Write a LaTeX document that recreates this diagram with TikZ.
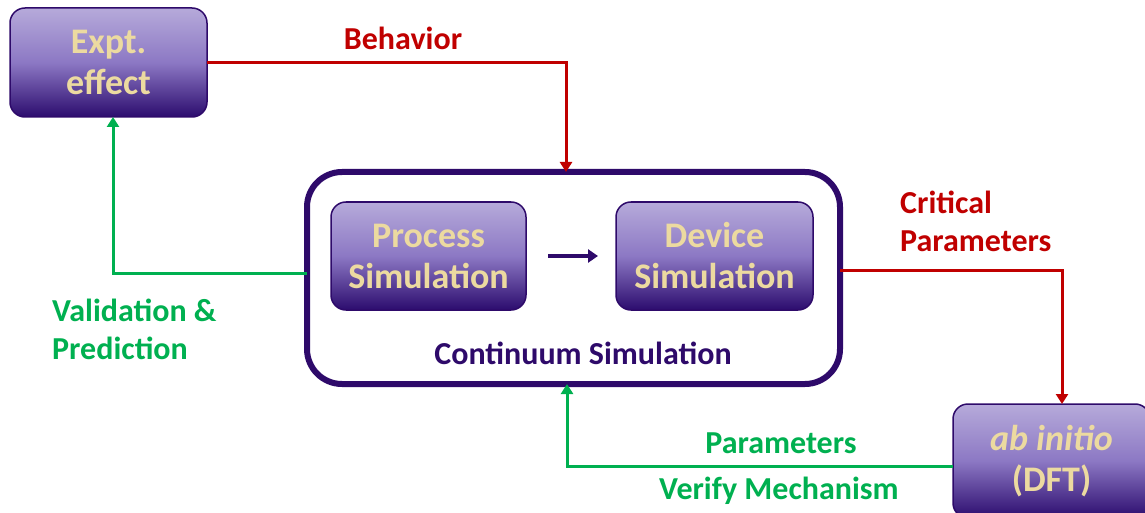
\documentclass[tikz,border=0pt]{standalone}
\usepackage{fontspec}
\setmainfont{Carlito}
\usetikzlibrary{arrows.meta}
\definecolor{dpurple}{RGB}{46,10,106}
\definecolor{ltop}{RGB}{182,170,218}
\definecolor{lmid}{RGB}{140,120,196}
\definecolor{lbot}{RGB}{44,12,110}
\definecolor{beige}{RGB}{236,218,160}
\definecolor{myred}{RGB}{192,0,0}
\definecolor{mygreen}{RGB}{0,176,80}
\tikzset{
  pbox/.style={draw=dpurple, line width=1.5pt, rounded corners=15pt, inner sep=0pt, outer sep=0pt,
    top color=ltop, bottom color=lbot, middle color=lmid, shading angle=0,
    text=beige, font=\fontsize{36}{41}\selectfont\bfseries, align=center},
  bigbox/.style={draw=dpurple, line width=6pt, rounded corners=35pt, fill=white, inner sep=0pt, outer sep=0pt},
  redarrow/.style={draw=myred, line width=3pt, -{Triangle[length=10pt,width=12pt]}},
  greenarrow/.style={draw=mygreen, line width=3pt, -{Triangle[length=10pt,width=12pt]}},
  redlabel/.style={text=myred, font=\fontsize{32}{38}\selectfont\bfseries, inner sep=0pt},
  greenlabel/.style={text=mygreen, font=\fontsize{32}{38}\selectfont\bfseries, inner sep=0pt},
}
\begin{document}
\begin{tikzpicture}[x=1pt,y=-1pt]
\useasboundingbox (0,0) rectangle (1145,513);
\clip (0,0) rectangle (1145,513);
\node[bigbox, minimum width=533pt, minimum height=212pt] (big) at (573.5,278) {};
\node[pbox, minimum width=197pt, minimum height=109pt] (expt) at (108.5,62.5) {Expt.\\effect};
\node[pbox, minimum width=195pt, minimum height=108pt] (proc) at (428.5,256) {Process\\Simulation};
\node[pbox, minimum width=197pt, minimum height=108pt] (dev) at (714.5,256) {Device\\Simulation};
\node[pbox, minimum width=197pt, minimum height=114pt, anchor=north west] (ab) at (953,404) {\itshape ab initio\\(DFT)};
\node[text=dpurple, font=\fontsize{32}{36}\selectfont\bfseries, inner sep=0pt] (cont) at (583,353) {Continuum Simulation};
\draw[draw=dpurple, line width=4pt, -{Triangle[length=10pt,width=13pt]}, shorten <=22pt, shorten >=18pt] (proc) -- (dev);
\draw[redarrow] (expt.east) -| ([xshift=-7.5pt]big.north);
\draw[redarrow] ([yshift=8pt]big.east) -| ([xshift=10.5pt]ab.north);
\draw[greenarrow] ([yshift=5pt]big.west) -| ([xshift=4.5pt]expt.south);
\draw[greenarrow] ([yshift=-5pt]ab.west) -| ([xshift=-6.5pt]big.south);
\node[redlabel] (beh) at (403,38) {Behavior};
\node[redlabel, align=left, anchor=west] (crit) at (900,221) {Critical\\Parameters};
\node[greenlabel, align=left, anchor=west] (val) at (52,329) {Validation \&\\Prediction};
\node[greenlabel] (par) at (781,443) {Parameters};
\node[greenlabel] (ver) at (779,491) {Verify Mechanism};
\end{tikzpicture}
\end{document}
